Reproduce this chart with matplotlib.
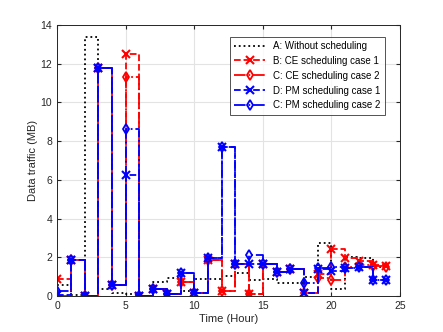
import numpy as np
import matplotlib
matplotlib.use('Agg')
import matplotlib.pyplot as plt

hours = list(range(25))

# A: without scheduling
traffic_a = [0.6, 0.05, 13.4, 0.35, 0.15, 0.1, 0.0, 0.75, 0.95, 0.25, 0.9, 0.9, 1.05,
             1.2, 0.82, 0.9, 0.68, 0.68, 1.0, 2.75, 0.35, 2.0, 1.95, 1.5, 1.5]
# B: CE scheduling case 1
traffic_b = [0.9, 1.85, 0.0, 11.8, 0.6, 12.5, 0.0, 0.35, 0.1, 0.75, 0.15, 1.85, 0.25,
             1.65, 0.1, 1.65, 1.25, 1.4, 0.15, 1.15, 2.45, 1.95, 1.8, 1.6, 1.55]
# C: CE scheduling case 2
traffic_c = [0.0, 1.85, 0.0, 11.8, 0.6, 11.3, 0.0, 0.35, 0.1, 0.75, 0.15, 1.85, 0.25,
             1.65, 0.1, 1.65, 1.25, 1.4, 0.15, 0.95, 0.85, 1.5, 1.6, 1.55, 1.5]
# D: PM scheduling case 1
traffic_d = [0.05, 1.85, 0.0, 11.8, 0.6, 6.25, 0.0, 0.35, 0.1, 1.2, 0.15, 1.95, 7.7,
             1.65, 1.65, 1.65, 1.25, 1.4, 0.15, 1.4, 1.3, 1.45, 1.5, 0.82, 0.82]
# C: PM scheduling case 2
traffic_e = [0.25, 1.85, 0.0, 11.8, 0.6, 8.65, 0.0, 0.35, 0.1, 1.2, 0.15, 1.95, 7.7,
             1.65, 2.1, 1.65, 1.25, 1.4, 0.7, 1.45, 1.5, 1.45, 1.5, 0.82, 0.82]

labels = ['A: Without scheduling', 'B: CE scheduling case 1', 'C: CE scheduling case 2',
          'D: PM scheduling case 1', 'C: PM scheduling case 2']

plt.rcParams['font.family'] = ['Liberation Sans', 'DejaVu Sans']

fig = plt.figure(figsize=(4.43, 3.32), dpi=100)
ax = fig.add_axes([0.129, 0.108, 0.774, 0.817])

ax.plot(hours, traffic_a, ':', color='k', lw=1.3, drawstyle='steps-post', label=labels[0])
ax.plot(hours, traffic_b, '--', color='r', lw=1.3, drawstyle='steps-post', marker='x',
        ms=5.5, mew=1.5, label=labels[1])
ax.plot(hours, traffic_c, '-.', color='r', lw=1.3, drawstyle='steps-post', marker='d',
        ms=5, mew=1.3, mfc='none', label=labels[2])
ax.plot(hours, traffic_d, '--', color='b', lw=1.3, drawstyle='steps-post', marker='x',
        ms=5.5, mew=1.5, label=labels[3])
ax.plot(hours, traffic_e, '-.', color='b', lw=1.3, drawstyle='steps-post', marker='d',
        ms=5, mew=1.3, mfc='none', label=labels[4])

ax.set_xlim(0, 25)
ax.set_ylim(0, 14)
ax.set_xticks(range(0, 26, 5))
ax.set_yticks(range(0, 15, 2))
ax.grid(True, color='#e3e3e3', lw=0.8)
ax.set_axisbelow(True)
ax.tick_params(direction='in', labelsize=7.5, length=3, top=True, right=True,
               labeltop=False, labelright=False, colors='#262626')
for sp in ax.spines.values():
    sp.set_color('#262626')
    sp.set_linewidth(0.7)

ax.set_xlabel('Time (Hour)', fontsize=8, color='#262626', labelpad=2)
ax.set_ylabel('Data traffic (MB)', fontsize=8, color='#262626', labelpad=2)

leg = ax.legend(loc='upper right', fontsize=7, frameon=True, fancybox=False,
                edgecolor='#262626', borderpad=0.45, handlelength=3.2, labelspacing=0.5,
                bbox_to_anchor=(0.97, 0.975))
leg.get_frame().set_linewidth(0.7)

fig.savefig('out.png', dpi=100)
